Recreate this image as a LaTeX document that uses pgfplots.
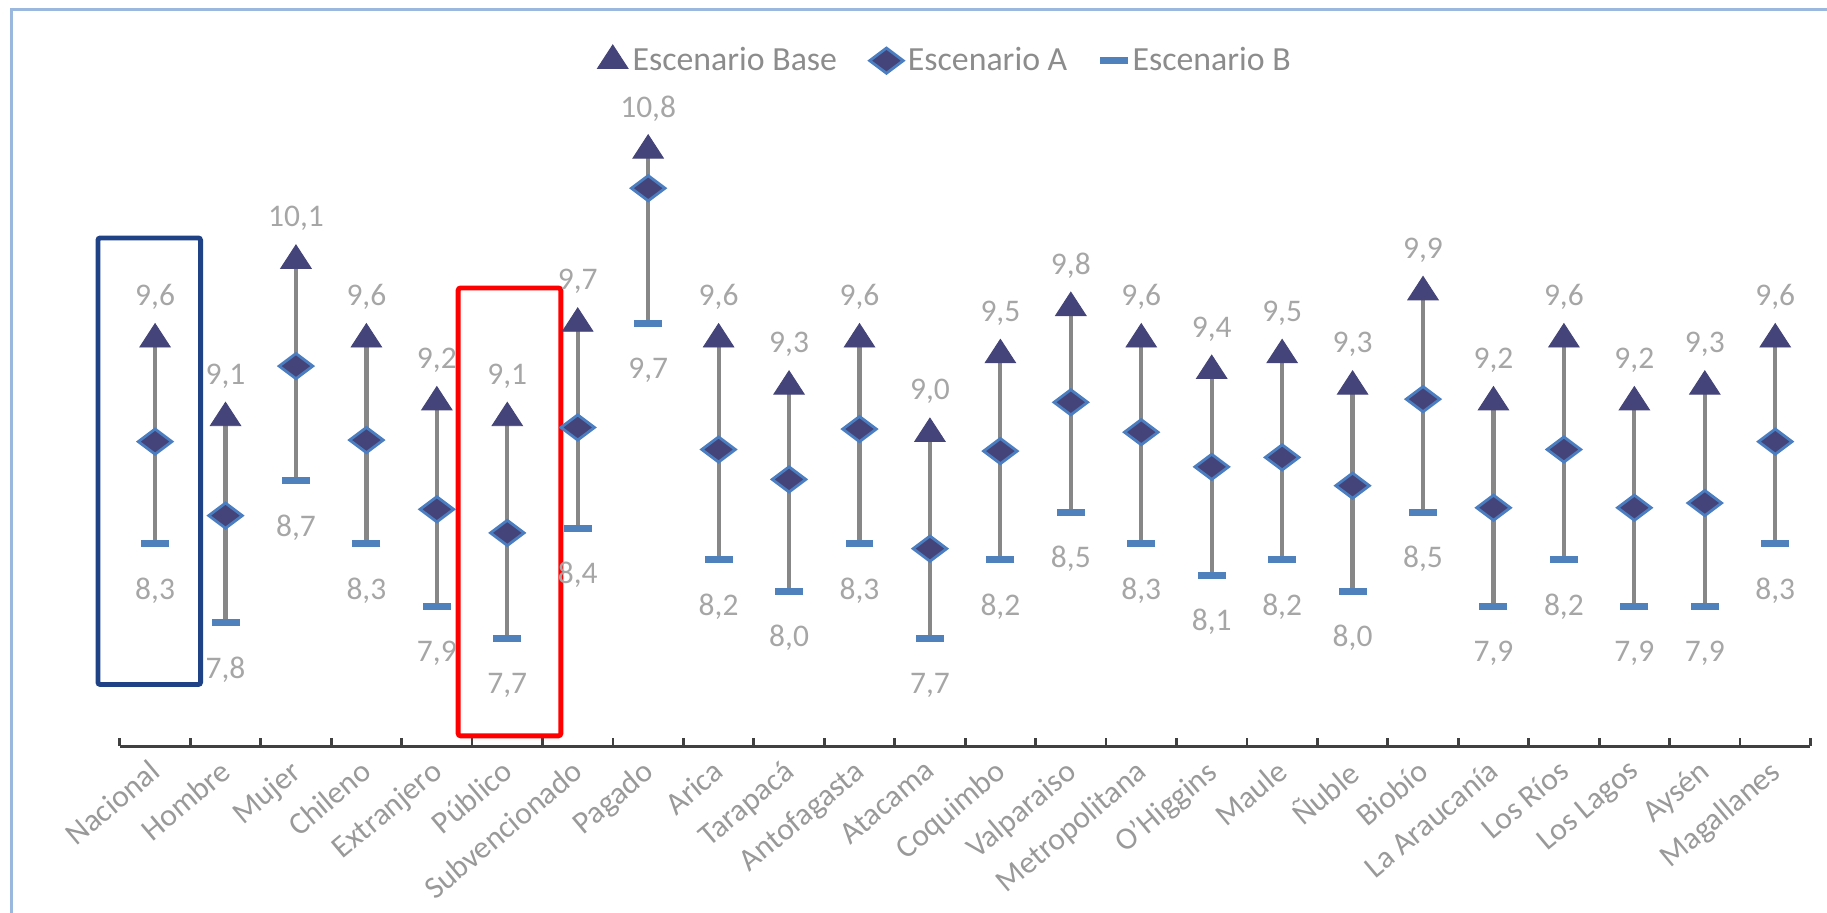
\documentclass[border=0pt]{standalone}
\usepackage{fontspec}
\setmainfont{Carlito}
\usepackage{pgfplots}
\usepackage{pgfplotstable}
\pgfplotsset{compat=1.18}

\definecolor{basec}{HTML}{44447A}
\definecolor{aedge}{HTML}{4A7EC0}
\definecolor{bcol}{HTML}{4F81BD}
\definecolor{linec}{HTML}{878787}
\definecolor{labc}{HTML}{A6A6A6}
\definecolor{tickc}{HTML}{999999}
\definecolor{legc}{HTML}{8C8C8C}
\definecolor{axc}{HTML}{404040}
\definecolor{framec}{HTML}{9AB8DE}
\definecolor{boxblue}{HTML}{1F4287}

% triangle, centroid on the data point
\pgfdeclareplotmark{tri}{%
  \pgfpathmoveto{\pgfqpoint{0pt}{6.7pt}}%
  \pgfpathlineto{\pgfqpoint{6.5pt}{-3.3pt}}%
  \pgfpathlineto{\pgfqpoint{-6.5pt}{-3.3pt}}%
  \pgfpathclose\pgfusepathqfillstroke}
% wide diamond
\pgfdeclareplotmark{dia}{%
  \pgfpathmoveto{\pgfqpoint{0pt}{5.4pt}}%
  \pgfpathlineto{\pgfqpoint{7.2pt}{0pt}}%
  \pgfpathlineto{\pgfqpoint{0pt}{-5.4pt}}%
  \pgfpathlineto{\pgfqpoint{-7.2pt}{0pt}}%
  \pgfpathclose\pgfusepathqfillstroke}

\pgfplotstableread{
x base a b
0 9.6 8.95 8.3
1 9.1 8.48 7.8
2 10.1 9.43 8.7
3 9.6 8.96 8.3
4 9.2 8.52 7.9
5 9.1 8.37 7.7
6 9.7 9.04 8.4
7 10.8 10.56 9.7
8 9.6 8.90 8.2
9 9.3 8.71 8.0
10 9.6 9.03 8.3
11 9.0 8.27 7.7
12 9.5 8.89 8.2
13 9.8 9.20 8.5
14 9.6 9.01 8.3
15 9.4 8.79 8.1
16 9.5 8.85 8.2
17 9.3 8.67 8.0
18 9.9 9.22 8.5
19 9.2 8.53 7.9
20 9.6 8.90 8.2
21 9.2 8.53 7.9
22 9.3 8.56 7.9
23 9.6 8.95 8.3
}\datos

\begin{document}
\begin{tikzpicture}
\path[use as bounding box] (0,0) rectangle (783.5pt,391.5pt);
\draw[framec, line width=1.3pt] (5pt,-20pt) rectangle (810pt,387.5pt);
\begin{axis}[
  at={(51.4pt,71.5pt)}, anchor=south west,
  scale only axis, width=725pt, height=283.5pt,
  xmin=-0.5, xmax=23.5, ymin=7.015, ymax=11.215,
  clip=false,
  axis x line*=bottom, axis y line=none,
  x axis line style={line width=1.3pt, axc},
  xtick={0,...,23},
  xticklabels={Nacional, Hombre, Mujer, Chileno, Extranjero, Público,
    Subvencionado, Pagado, Arica, Tarapacá, Antofagasta, Atacama,
    Coquimbo, Valparaiso, Metropolitana, O'Higgins, Maule, Ñuble,
    Biobío, La Araucanía, Los Ríos, Los Lagos, Aysén, Magallanes},
  major tick length=0pt,
  minor xtick={-0.5,0.5,...,23.5},
  minor tick length=3.5pt,
  tick align=inside,
  minor tick style={line width=1.2pt, axc},
  xticklabel style={font=\fontsize{13.5}{15}\selectfont, text=tickc,
    inner sep=0pt, anchor=north east, xshift=-3pt, yshift=-5pt, rotate=40},
  /pgf/number format/use comma,
  /pgf/number format/fixed,
  /pgf/number format/fixed zerofill,
  /pgf/number format/precision=1,
  /pgf/number format/assume math mode=true,
  legend columns=-1,
  legend style={at={(0.489,1.037)}, anchor=center, draw=none, fill=none,
    font=\fontsize{14.5}{16}\selectfont, text=legc,
    /tikz/every even column/.append style={column sep=12pt}},
  legend image code/.code={\draw[#1] plot coordinates {(0pt,0pt)};},
]
% vertical ranges from Escenario B to Escenario Base
\addplot[forget plot, only marks, mark=none,
  error bars/.cd, y dir=both, y explicit, error mark=none,
  error bar style={linec, line width=1.8pt}]
  table[x=x, y=a, y error plus expr=\thisrow{base}-\thisrow{a},
        y error minus expr=\thisrow{a}-\thisrow{b}] {\datos};

\addplot[only marks, mark=tri, mark options={fill=basec, draw=basec, line width=0.4pt},
  nodes near coords,
  nodes near coords style={font=\fontsize{13.5}{15}\selectfont, text=labc,
    anchor=center, yshift=18pt}]
  table[x=x, y=base] {\datos};
\addlegendentry{Escenario Base}

\addplot[only marks, mark=dia, mark options={fill=basec, draw=aedge, line width=1.2pt}]
  table[x=x, y=a] {\datos};
\addlegendentry{Escenario A}

\addplot[only marks, mark=-, mark size=6pt, mark options={draw=bcol, line width=3pt},
  nodes near coords,
  nodes near coords style={font=\fontsize{13.5}{15}\selectfont, text=labc,
    anchor=center, yshift=-20pt}]
  table[x=x, y=b] {\datos};
\addlegendentry{Escenario B}

% highlight boxes
\draw[boxblue, line width=2.1pt, rounded corners=1pt]
  (axis cs:-0.811,7.407) rectangle (axis cs:0.646,10.244);
\draw[red, line width=2.1pt, rounded corners=1pt]
  (axis cs:4.303,7.081) rectangle (axis cs:5.76,9.926);
\end{axis}
\end{tikzpicture}
\end{document}
